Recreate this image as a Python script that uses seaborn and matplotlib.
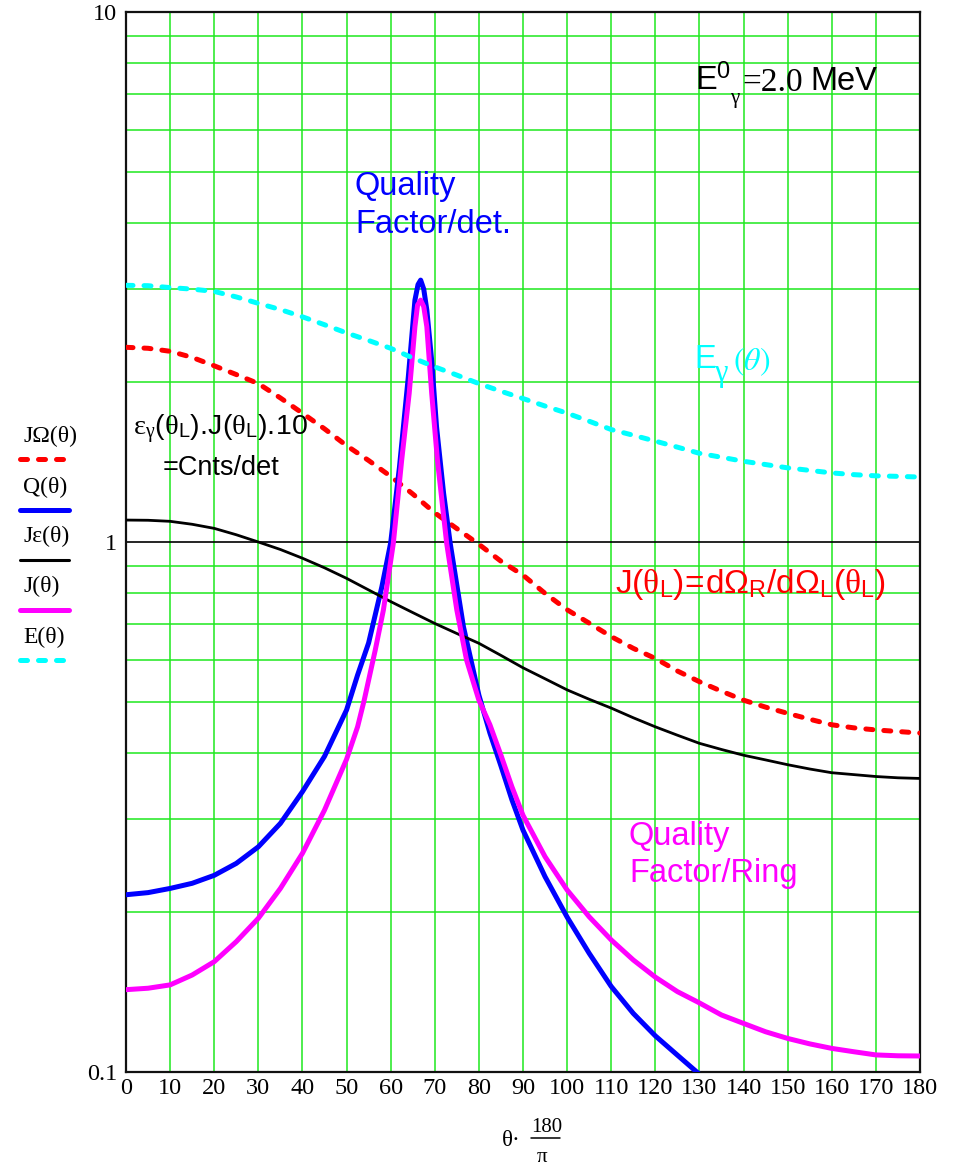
import matplotlib
matplotlib.use("Agg")
import matplotlib.pyplot as plt
import seaborn as sns
from matplotlib.lines import Line2D
from matplotlib.ticker import FixedLocator, NullFormatter

# ---- data: scattering angle theta (deg) and the plotted functions ----
theta_deg = [0, 5, 10, 15, 20, 25, 30, 35, 40, 45, 50, 55, 60, 65, 70, 75,
             80, 85, 90, 95, 100, 105, 110, 115, 120, 125, 130, 135, 140,
             145, 150, 155, 160, 165, 170, 175, 180]

# E(theta): scattered gamma energy
E_gamma = [3.05, 3.045, 3.02, 3.0, 2.97, 2.90, 2.82, 2.745, 2.66, 2.57,
           2.48, 2.40, 2.32, 2.225, 2.14, 2.065, 1.99, 1.925, 1.865, 1.805,
           1.75, 1.69, 1.63, 1.59, 1.55, 1.51, 1.47, 1.445, 1.42, 1.40,
           1.38, 1.365, 1.35, 1.34, 1.333, 1.33, 1.326]

# JOmega(theta): solid-angle Jacobian dOmega_R/dOmega_L
J_omega = [2.33, 2.32, 2.29, 2.23, 2.15, 2.07, 1.99, 1.87, 1.75, 1.635,
           1.52, 1.425, 1.33, 1.232, 1.135, 1.06, 0.99, 0.92, 0.866, 0.80,
           0.745, 0.703, 0.663, 0.63, 0.603, 0.571, 0.545, 0.523, 0.503,
           0.488, 0.475, 0.463, 0.452, 0.446, 0.442, 0.439, 0.436]

# Jeps(theta): efficiency x Jacobian x 10 = counts per detector
J_eps = [1.10, 1.099, 1.094, 1.08, 1.061, 1.032, 1.0, 0.968, 0.932, 0.894,
         0.854, 0.812, 0.772, 0.736, 0.702, 0.672, 0.644, 0.611, 0.579,
         0.552, 0.526, 0.505, 0.486, 0.466, 0.448, 0.432, 0.417, 0.406,
         0.396, 0.388, 0.380, 0.373, 0.367, 0.364, 0.361, 0.359, 0.358]

# Q(theta): quality factor per detector
q_theta = [0, 5, 10, 15, 20, 25, 30, 35, 40, 45, 50, 52.5, 55, 58, 60, 62,
           64, 65.5, 66.2, 66.8, 67.5, 68.2, 69.3, 70.4, 72, 73.5, 76.5, 80,
           82.5, 85, 87.5, 90, 95, 100, 105, 110, 115, 120, 125, 130]
Q_det = [0.216, 0.218, 0.222, 0.227, 0.235, 0.2475, 0.266, 0.2945, 0.338,
         0.394, 0.482, 0.561, 0.645, 0.823, 0.996, 1.387, 2.05, 2.86, 3.06,
         3.12, 3.0, 2.74, 2.20, 1.65, 1.236, 0.994, 0.692, 0.514, 0.436,
         0.378, 0.326, 0.286, 0.2336, 0.196, 0.1675, 0.145, 0.129, 0.117,
         0.1076, 0.099]

# J(theta): quality factor per ring
j_theta = [0, 5, 10, 15, 20, 25, 30, 35, 40, 45, 50, 52.5, 54, 56.5, 58.35,
           60.6, 62.5, 64.2, 65.5, 66.1, 66.8, 67.5, 68.2, 69.3, 70.6, 72.7,
           75, 77.2, 80, 82.5, 85, 87.5, 90, 95, 100, 105, 110, 115, 120,
           125, 130, 135, 140, 145, 150, 155, 160, 165, 170, 175, 180]
Q_ring = [0.143, 0.1439, 0.146, 0.1524, 0.1615, 0.1762, 0.195, 0.222,
          0.2586, 0.312, 0.389, 0.448, 0.503, 0.625, 0.744, 0.994, 1.428,
          1.908, 2.548, 2.80, 2.86, 2.78, 2.548, 1.908, 1.428, 0.994, 0.744,
          0.599, 0.503, 0.452, 0.396, 0.345, 0.305, 0.2548, 0.2205, 0.1963,
          0.1775, 0.1627, 0.151, 0.1418, 0.135, 0.1281, 0.1235, 0.1191,
          0.1157, 0.113, 0.1108, 0.1092, 0.1077, 0.1073, 0.1072]

x_ticks = list(range(0, 181, 10))
y_ticks = [0.1, 1, 10]
y_tick_labels = ["0.1", "1", "10"]
legend_labels = ["JΩ(θ)", "Q(θ)", "Jε(θ)", "J(θ)", "E(θ)"]

RED, BLUE, BLACK, MAGENTA, CYAN = "#ff0000", "#0000ff", "#000000", "#ff00ff", "#00ffff"
GRID = "#1ee81e"

sns.set_style("white")
plt.rcParams["font.family"] = ["Liberation Sans", "DejaVu Sans"]
plt.rcParams["text.color"] = "black"
plt.rcParams["mathtext.fontset"] = "custom"
plt.rcParams["mathtext.rm"] = "Liberation Serif"
plt.rcParams["mathtext.sf"] = "Liberation Sans"
plt.rcParams["mathtext.it"] = "Liberation Serif:italic"

W, H = 956, 1165
fig = plt.figure(figsize=(W / 100, H / 100), dpi=100)
ax = fig.add_axes([126 / W, 1 - 1072 / H, (920 - 126) / W, (1072 - 12) / H])

DASH = (1.4, 2.2)
LW = 3.6

sns.lineplot(x=theta_deg, y=J_omega, ax=ax, color=RED, lw=LW,
             linestyle=(0, DASH), dash_capstyle="round", zorder=3)
sns.lineplot(x=q_theta, y=Q_det, ax=ax, color=BLUE, lw=LW, zorder=4,
             solid_joinstyle="round")
sns.lineplot(x=theta_deg, y=J_eps, ax=ax, color=BLACK, lw=2.0, zorder=5)
sns.lineplot(x=j_theta, y=Q_ring, ax=ax, color=MAGENTA, lw=LW, zorder=6,
             solid_joinstyle="round")
sns.lineplot(x=theta_deg, y=E_gamma, ax=ax, color=CYAN, lw=LW,
             linestyle=(0, DASH), dash_capstyle="round", zorder=7)

ax.set_yscale("log")
ax.set_xlim(0, 180)
ax.set_ylim(0.1, 10)
ax.set_xticks(x_ticks)
ax.set_xticklabels([str(t) for t in x_ticks])
ax.yaxis.set_major_locator(FixedLocator(y_ticks))
ax.set_yticklabels(y_tick_labels)
minor_y = [m * d for d in (0.1, 1) for m in range(2, 10)]
ax.yaxis.set_minor_locator(FixedLocator(minor_y))
ax.yaxis.set_minor_formatter(NullFormatter())
ax.set_xlabel("")
ax.set_ylabel("")

ax.grid(which="major", axis="x", color=GRID, lw=1.1, zorder=1)
ax.grid(which="minor", axis="y", color=GRID, lw=1.1, zorder=1)
ax.grid(which="major", axis="y", color="black", lw=1.2, zorder=2)
ax.set_axisbelow(True)

for sp in ax.spines.values():
    sp.set_visible(True)
    sp.set_color("#111111")
    sp.set_linewidth(1.6)

ax.tick_params(axis="both", which="both", length=0)
ax.tick_params(axis="x", pad=4.5)
ax.tick_params(axis="y", pad=6.5)
for lab in ax.get_xticklabels() + ax.get_yticklabels():
    lab.set_fontfamily("Liberation Serif")
    lab.set_fontsize(17.5)
    lab.set_color("black")


def put(px, py, s, **kw):
    kw.setdefault("va", "baseline")
    kw.setdefault("ha", "left")
    return fig.text(px / W, 1 - py / H, s, **kw)


SERIF = "Liberation Serif"
SANS = "Liberation Sans"

# x-axis expression: theta * 180 / pi written as a stacked fraction
put(502, 1146, "θ·", fontsize=16.5, family=SERIF)
put(547, 1132, "180", fontsize=15, family=SERIF, ha="center")
fig.add_artist(Line2D([531 / W, 560 / W], [1 - 1138 / H, 1 - 1138 / H],
                      transform=fig.transFigure, color="black", lw=1.1))
put(542, 1162, "π", fontsize=15, family=SERIF, ha="center")

# incident energy
put(695, 89, "E", fontsize=23.5, family=SANS)
put(716, 78, "0", fontsize=17, family=SANS)
put(730, 103, "γ", fontsize=15, family=SERIF)
put(742, 91, "=2.0", fontsize=24, family=SERIF)
put(810, 90, "MeV", fontsize=23.5, family=SANS)

# curve annotations
put(355, 195, "Quality", fontsize=23.5, family=SANS, color=BLUE)
put(355, 233, "Factor/det.", fontsize=23.5, family=SANS, color=BLUE)

put(694, 368, "E", fontsize=23.5, family=SANS, color=CYAN)
put(714, 381, "γ", fontsize=22, family=SERIF, color=CYAN)
put(733, 370, r"$(\theta)$", fontsize=23, color=CYAN, math_fontfamily="stix")

put(133, 435,
    r"$\mathrm{ε}_{\mathrm{γ}}\mathsf{(}\mathrm{θ}_{\mathsf{L}}\mathsf{).\!J(}"
    r"\mathrm{θ}_{\mathsf{L}}\mathsf{).\!10}$",
    fontsize=20.5, color=BLACK)
put(163, 475, "=Cnts/det", fontsize=19.5, family=SANS, color=BLACK)

put(615, 593,
    r"$\mathsf{J(}\mathrm{θ}_{\mathsf{L}}\mathsf{)\!=\!dΩ}_{\mathsf{R}}"
    r"\mathsf{/dΩ}_{\mathsf{L}}\mathsf{(}\mathrm{θ}_{\mathsf{L}}\mathsf{)}$",
    fontsize=24, color=RED)

put(629, 845, "Quality", fontsize=23.5, family=SANS, color=MAGENTA)
put(629, 882, "Factor/Ring", fontsize=23.5, family=SANS, color=MAGENTA)

# trace legend on the left
legend_styles = [
    (RED, LW, (0, DASH), 459),
    (BLUE, LW, "-", 510),
    (BLACK, 2.2, "-", 560),
    (MAGENTA, LW, "-", 610),
    (CYAN, LW, (0, DASH), 660),
]
label_base = [442, 493, 542, 592, 643]
for lab, yb, (col, lw, ls, yl) in zip(legend_labels, label_base, legend_styles):
    put(23, yb, lab, fontsize=17, family=SERIF, color="black")
    fig.add_artist(Line2D([20 / W, 69 / W], [1 - yl / H, 1 - yl / H],
                          transform=fig.transFigure, color=col, lw=lw,
                          linestyle=ls, dash_capstyle="round",
                          solid_capstyle="round"))

fig.savefig("out.png", dpi=100)
